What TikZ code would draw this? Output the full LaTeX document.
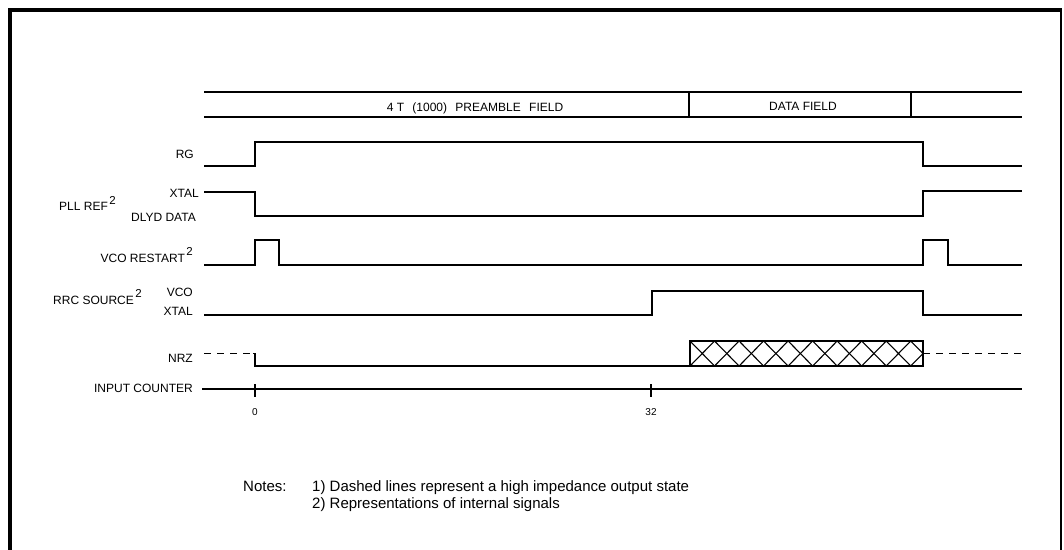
\documentclass[tikz,border=0pt]{standalone}
\usepackage{fontspec}
\setmainfont{Liberation Sans}
\begin{document}
\begin{tikzpicture}[x=1pt,y=-1pt,
  sig/.style={line width=1.3pt},
  hiz/.style={line width=1.3pt, dash pattern=on 7pt off 6pt},
  lbl/.style={font=\fontsize{12}{14}\selectfont, inner sep=0pt, anchor=base east},
  lblw/.style={font=\fontsize{12}{14}\selectfont, inner sep=0pt, anchor=base west},
  hdr/.style={font=\fontsize{12}{14}\selectfont, inner sep=0pt, anchor=base},
  tick/.style={font=\fontsize{10}{12}\selectfont, inner sep=0pt, anchor=base},
  note/.style={font=\fontsize{15}{18}\selectfont, inner sep=0pt, anchor=base west}]
\newcommand{\supr}{\kern1.5pt\raisebox{6.5pt}{\fontsize{11.5}{12}\selectfont 2}}
\useasboundingbox (0,0) rectangle (1064,549);
% frame
\draw[line width=4pt] (9.5,560) -- (9.5,9.5) -- (1061,9.5);
\draw[line width=2.5pt] (1061,8) -- (1061,560);
% header
\draw[sig] (204,92) -- (1022,92);
\draw[sig] (204,117) -- (1022,117);
\draw[sig] (689,92) -- (689,117);
\draw[sig] (911,92) -- (911,117);
\node[hdr] (pre) at (475,111) {4 T\hspace{5pt} (1000)\hspace{5pt} PREAMBLE\hspace{5pt} FIELD};
\node[hdr] (data) at (803,110) {DATA FIELD};
% labels
\node[lbl] (rg) at (194,158) {RG};
\node[lbl] (xtal1) at (199,197) {XTAL};
\node[lblw] (pll) at (59,210.7) {PLL REF\supr};
\node[lbl] (dlyd) at (196,221) {DLYD DATA};
\node[lbl] (vcor) at (193,262) {VCO RESTART\supr};
\node[lblw] (rrc) at (53,304) {RRC SOURCE\supr};
\node[lbl] (vco) at (193,296) {VCO};
\node[lbl] (xtal2) at (193,315) {XTAL};
\node[lbl] (nrz) at (193,362) {NRZ};
\node[lbl] (ic) at (193,392.5) {INPUT COUNTER};
% RG
\draw[sig] (204,166) -- (255,166) -- (255,142) -- (923,142) -- (923,166) -- (1022,166);
% PLL REF
\draw[sig] (204,192) -- (255,192) -- (255,216) -- (923,216) -- (923,191) -- (1022,191);
% VCO RESTART
\draw[sig] (204,265) -- (255,265) -- (255,240) -- (279,240) -- (279,265) -- (923,265)
  -- (923,240) -- (948,240) -- (948,265) -- (1022,265);
% RRC SOURCE
\draw[sig] (204,315) -- (652,315) -- (652,291) -- (923,291) -- (923,315) -- (1022,315);
% NRZ
\draw[hiz] (204,353.5) -- (253,353.5);
\draw[sig] (253,353.5) -- (255,353.5) -- (255,366) -- (690,366);
\draw[sig] (690,341) rectangle (923,366);
\foreach \k in {0,...,8}{
  \draw[line width=1.1pt] ({690+\k*24.526},341) -- ({690+(\k+1)*24.526},366);
  \draw[line width=1.1pt] ({690+\k*24.526},366) -- ({690+(\k+1)*24.526},341);
}
\draw[line width=1.1pt] (910.7,341) -- (923,353.5) -- (910.7,366);
\draw[hiz] (923,353.5) -- (1025,353.5);
% input counter
\draw[sig] (202,389) -- (1022,389);
\draw[sig] (255,384) -- (255,397);
\draw[sig] (651,384) -- (651,397);
\node[tick] (t0) at (255,415) {0};
\node[tick] (t32) at (651,415) {32};
% notes
\node[note] (notes) at (243,491) {Notes:};
\node[note] (n1) at (312,491) {1) Dashed lines represent a high impedance output state};
\node[note] (n2) at (312,508) {2) Representations of internal signals};
\end{tikzpicture}
\end{document}
